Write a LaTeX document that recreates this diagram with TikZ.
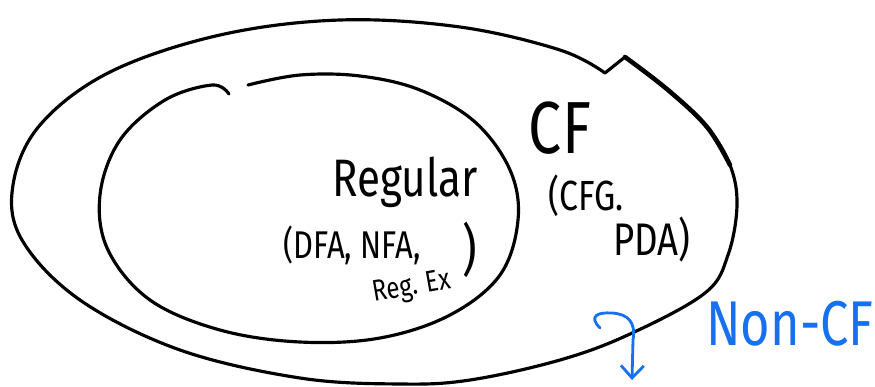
\documentclass[tikz,border=0pt]{standalone}
\usepackage{fontspec}
\newfontfamily\hand[FakeStretch=0.8]{Fira Sans}
\usetikzlibrary{arrows.meta}
\definecolor{pen}{RGB}{22,112,240}
\newcommand{\ink}{black}

\begin{document}
\begin{tikzpicture}[x=0.02cm, y=-0.02cm,
        outline/.style = {draw=\ink, line width=1.8pt, line cap=round, line join=round},
        label/.style = {font=\hand\fontsize{#1}{#1}\selectfont, inner sep=0pt},
        label/.default = 24,
        marker/.style = {draw=pen, line width=1.6pt, line cap=round, line join=round}]
        \useasboundingbox (0,0) rectangle (875,386);
        %\draw[help lines, step=50] (0,0) grid (875,386);
        % outer set (context free), with the small kink top right
        \draw[outline] plot[smooth, tension=0.6] coordinates {
            (625,57) (668,90) (707,127) (730,165) (737,205) (728,255) (705,293)
            (630,334) (560,360) (470,380) (400,384) (300,378) (180,350)
            (80,300) (22,240) (13,185) (40,125) (110,72) (220,35) (340,20)
            (460,27) (560,50) (605,73)} -- (625,57);
        \draw[outline, line width=2.6pt] plot[smooth, tension=0.6] coordinates {
            (625,57) (668,90) (707,127) (730,165)};
        % inner set (regular), left open near the top
        \draw[outline] plot[smooth, tension=0.6] coordinates {
            (248,85) (300,75) (360,76) (420,90) (475,122) (510,170) (518,220)
            (500,275) (450,315) (380,338) (300,342) (220,330) (150,300)
            (108,250) (100,195) (120,140) (165,100) (212,85) (229,94)};

        \node[label=30] (regular) at (405,182) {Regular};
        \node[label=22] (regdfa) at (352,245) {(DFA, NFA,};
        \node[label=17, rotate=10] (regex) at (412,288) {Reg. Ex};
        \node[label=32] (regclose) at (470,250) {)};

        \node[label=42] (cf) at (560,128) {CF};
        \node[label=24] (cfg) at (586,196) {(CFG.};
        \node[label=26] (pda) at (652,240) {PDA)};

        \node[label=36, text=pen] (noncf) at (790,324) {Non-CF};
        \coordinate (hook) at (600,328);
        \coordinate (tip) at (632,380);
        \draw[marker, -{Straight Barb[length=7pt, width=13pt]}] (hook)
            .. controls (588,316) and (598,312) .. (612,313)
            .. controls (628,314) and (636,322) .. (633,340) -- (tip);
    \end{tikzpicture}
\end{document}
